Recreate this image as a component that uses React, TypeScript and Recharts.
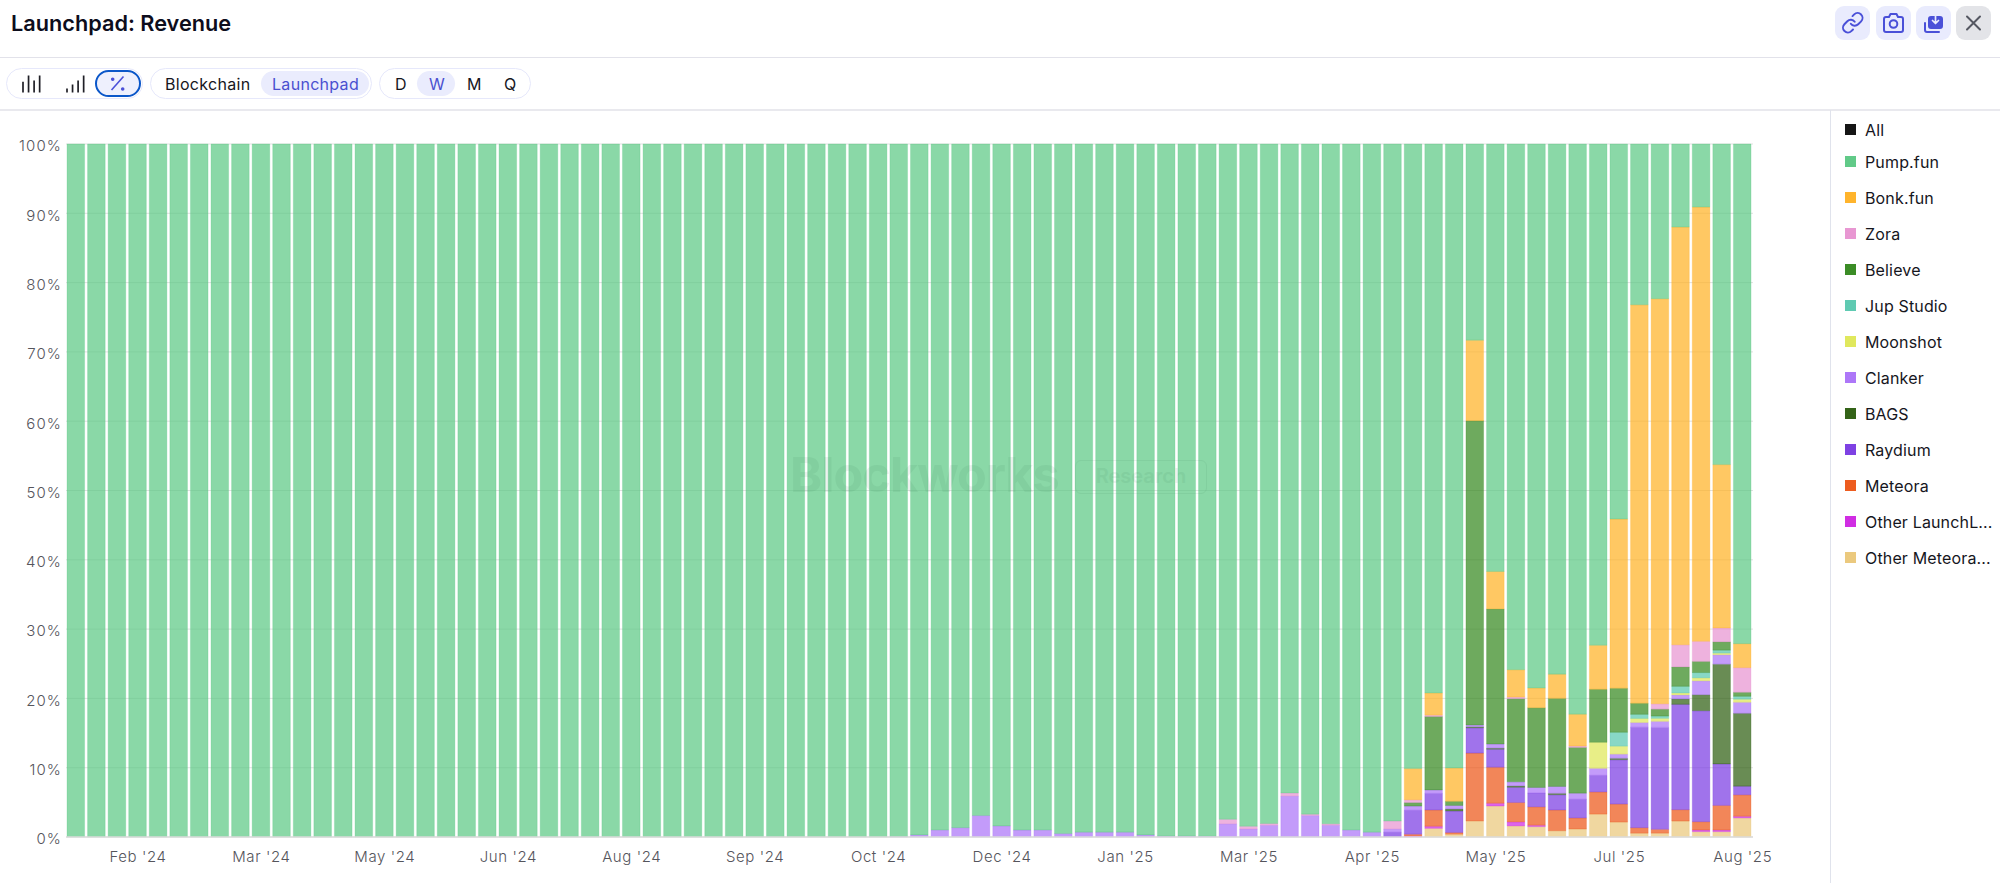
import { CSSProperties } from 'react';
import { BarChart, Bar, XAxis, YAxis, CartesianGrid } from 'recharts';

const weeks: string[] = [
  '2024-01-28', '2024-02-04', '2024-02-11', '2024-02-18', '2024-02-25', '2024-03-03', '2024-03-10', '2024-03-17', '2024-03-24', '2024-03-31',
  '2024-04-07', '2024-04-14', '2024-04-21', '2024-04-28', '2024-05-05', '2024-05-12', '2024-05-19', '2024-05-26', '2024-06-02', '2024-06-09',
  '2024-06-16', '2024-06-23', '2024-06-30', '2024-07-07', '2024-07-14', '2024-07-21', '2024-07-28', '2024-08-04', '2024-08-11', '2024-08-18',
  '2024-08-25', '2024-09-01', '2024-09-08', '2024-09-15', '2024-09-22', '2024-09-29', '2024-10-06', '2024-10-13', '2024-10-20', '2024-10-27',
  '2024-11-03', '2024-11-10', '2024-11-17', '2024-11-24', '2024-12-01', '2024-12-08', '2024-12-15', '2024-12-22', '2024-12-29', '2025-01-05',
  '2025-01-12', '2025-01-19', '2025-01-26', '2025-02-02', '2025-02-09', '2025-02-16', '2025-02-23', '2025-03-02', '2025-03-09', '2025-03-16',
  '2025-03-23', '2025-03-30', '2025-04-06', '2025-04-13', '2025-04-20', '2025-04-27', '2025-05-04', '2025-05-11', '2025-05-18', '2025-05-25',
  '2025-06-01', '2025-06-08', '2025-06-15', '2025-06-22', '2025-06-29', '2025-07-06', '2025-07-13', '2025-07-20', '2025-07-27', '2025-08-03',
  '2025-08-10', '2025-08-17',
];

const tickWeeks = ['2024-02-18', '2024-03-31', '2024-05-12', '2024-06-23', '2024-08-04', '2024-09-15', '2024-10-27', '2024-12-08', '2025-01-19', '2025-03-02', '2025-04-13', '2025-05-25', '2025-07-06', '2025-08-17'];
const tickMonths = ["Feb '24", "Mar '24", "May '24", "Jun '24", "Aug '24", "Sep '24", "Oct '24", "Dec '24", "Jan '25", "Mar '25", "Apr '25", "May '25", "Jul '25", "Aug '25"];
const percentTicks = [0, 0.1, 0.2, 0.3, 0.4, 0.5, 0.6, 0.7, 0.8, 0.9, 1];

const pumpFun = [
  100, 100, 100, 100, 100, 100, 100, 100, 100, 100,
  100, 100, 100, 100, 100, 100, 100, 100, 100, 100,
  100, 100, 100, 100, 100, 100, 100, 100, 100, 100,
  100, 100, 100, 100, 100, 100, 100, 100, 100, 100,
  99.95, 99.7, 99, 98.65, 96.9, 98.4, 99, 99, 99.5, 99.3,
  99.3, 99.3, 99.7, 99.88, 99.88, 99.9, 97.45, 98.45, 98.05, 93.65,
  96.7, 98.1, 99, 99.3, 97.7, 90, 79.3, 90.05, 28.3, 61.7,
  75.9, 78.5, 76.5, 82.25, 72.3, 54.1, 23.2, 22.3, 12, 9.1,
  46.3, 72.1,
];
const bonkFun = [
  0, 0, 0, 0, 0, 0, 0, 0, 0, 0, 0, 0, 0, 0, 0, 0, 0, 0, 0, 0,
  0, 0, 0, 0, 0, 0, 0, 0, 0, 0, 0, 0, 0, 0, 0, 0, 0, 0, 0, 0,
  0, 0, 0, 0, 0, 0, 0, 0, 0, 0, 0, 0, 0, 0, 0, 0, 0, 0, 0, 0,
  0, 0, 0, 0, 0, 4.5, 3.2, 4.8, 11.6, 5.4,
  3.95, 2.85, 3.5, 4.6, 6.35, 24.4, 57.5, 58.4, 60.3, 62.6,
  23.6, 3.46,
];
const zora = [
  0, 0, 0, 0, 0, 0, 0, 0, 0, 0, 0, 0, 0, 0, 0, 0, 0, 0, 0, 0,
  0, 0, 0, 0, 0, 0, 0, 0, 0, 0, 0, 0, 0, 0, 0, 0, 0, 0, 0, 0,
  0, 0, 0, 0, 0, 0, 0, 0, 0, 0,
  0, 0, 0, 0, 0, 0, 0.65, 0.4, 0.25, 0.45,
  0.2, 0.2, 0, 0, 1.15, 0.4, 0.2, 0, 0, 0,
  0.24, 0, 0, 0.2, 0, 0, 0, 0.77, 3.2, 2.9,
  2, 3.56,
];
const believe = [
  0, 0, 0, 0, 0, 0, 0, 0, 0, 0, 0, 0, 0, 0, 0, 0, 0, 0, 0, 0,
  0, 0, 0, 0, 0, 0, 0, 0, 0, 0, 0, 0, 0, 0, 0, 0, 0, 0, 0, 0,
  0, 0, 0, 0, 0, 0, 0, 0, 0, 0, 0, 0, 0, 0, 0, 0, 0, 0, 0, 0,
  0, 0, 0, 0, 0, 0.5, 10.6, 0.6, 43.9, 19.5,
  12, 11.5, 12.7, 6.6, 7.65, 6.35, 1.6, 1, 2.8, 1.6,
  1.2, 0.58,
];
const jupStudio = [
  0, 0, 0, 0, 0, 0, 0, 0, 0, 0, 0, 0, 0, 0, 0, 0, 0, 0, 0, 0,
  0, 0, 0, 0, 0, 0, 0, 0, 0, 0, 0, 0, 0, 0, 0, 0, 0, 0, 0, 0,
  0, 0, 0, 0, 0, 0, 0, 0, 0, 0, 0, 0, 0, 0, 0, 0, 0, 0, 0, 0,
  0, 0, 0, 0, 0, 0, 0, 0, 0, 0,
  0, 0, 0, 0, 0, 2, 0.6, 0.33, 0.96, 0.77,
  0.43, 0.43,
];
const moonshot = [
  0, 0, 0, 0, 0, 0, 0, 0, 0, 0, 0, 0, 0, 0, 0, 0, 0, 0, 0, 0,
  0, 0, 0, 0, 0, 0, 0, 0, 0, 0, 0, 0, 0, 0, 0, 0, 0, 0, 0, 0,
  0, 0, 0, 0, 0, 0, 0, 0, 0, 0, 0, 0, 0, 0, 0, 0, 0, 0, 0, 0,
  0, 0, 0, 0, 0, 0, 0, 0, 0, 0,
  0, 0, 0, 0, 3.75, 1.15, 0.58, 0.43, 0.29, 0.43,
  0.24, 0.43,
];
const clanker = [
  0, 0, 0, 0, 0, 0, 0, 0, 0, 0, 0, 0, 0, 0, 0, 0, 0, 0, 0, 0,
  0, 0, 0, 0, 0, 0, 0, 0, 0, 0, 0, 0, 0, 0, 0, 0, 0, 0, 0, 0,
  0.05, 0.3, 1, 1.35, 3.1, 1.6, 1, 1, 0.5, 0.7,
  0.7, 0.7, 0.3, 0.12, 0.12, 0.1, 1.9, 1.15, 1.7, 5.9,
  3.1, 1.7, 1, 0.7, 0.45, 0.6, 0.5, 0.5, 0.25, 0.6,
  0.58, 0.8, 1, 0.87, 1, 0.6, 0.67, 0.87, 0.58, 2,
  1.35, 1.6,
];
const bags = [
  0, 0, 0, 0, 0, 0, 0, 0, 0, 0, 0, 0, 0, 0, 0, 0, 0, 0, 0, 0,
  0, 0, 0, 0, 0, 0, 0, 0, 0, 0, 0, 0, 0, 0, 0, 0, 0, 0, 0, 0,
  0, 0, 0, 0, 0, 0, 0, 0, 0, 0, 0, 0, 0, 0, 0, 0, 0, 0, 0, 0,
  0, 0, 0, 0, 0, 0, 0, 0.3, 0.15, 0.15,
  0.2, 0, 0.2, 0, 0, 0.2, 0, 0, 0.77, 2.3,
  14.4, 10.5,
];
const raydium = [
  0, 0, 0, 0, 0, 0, 0, 0, 0, 0, 0, 0, 0, 0, 0, 0, 0, 0, 0, 0,
  0, 0, 0, 0, 0, 0, 0, 0, 0, 0, 0, 0, 0, 0, 0, 0, 0, 0, 0, 0,
  0, 0, 0, 0, 0, 0, 0, 0, 0, 0, 0, 0, 0, 0, 0, 0, 0, 0, 0, 0,
  0, 0, 0, 0, 0.7, 3.46, 2.4, 3.1, 3.65, 2.6,
  2.2, 2, 2.2, 2.7, 2.4, 6.4, 14.5, 14.7, 15.2, 16,
  6, 1.25,
];
const meteora = [
  0, 0, 0, 0, 0, 0, 0, 0, 0, 0, 0, 0, 0, 0, 0, 0, 0, 0, 0, 0,
  0, 0, 0, 0, 0, 0, 0, 0, 0, 0, 0, 0, 0, 0, 0, 0, 0, 0, 0, 0,
  0, 0, 0, 0, 0, 0, 0, 0, 0, 0, 0, 0, 0, 0, 0, 0, 0, 0, 0, 0,
  0, 0, 0, 0, 0, 0.25, 2.35, 0.25, 9.8, 5.2,
  2.8, 2.65, 3, 1.6, 3.2, 2.6, 0.8, 0.55, 1.65, 1.2,
  3.55, 3.1,
];
const otherLaunchLab = [
  0, 0, 0, 0, 0, 0, 0, 0, 0, 0, 0, 0, 0, 0, 0, 0, 0, 0, 0, 0,
  0, 0, 0, 0, 0, 0, 0, 0, 0, 0, 0, 0, 0, 0, 0, 0, 0, 0, 0, 0,
  0, 0, 0, 0, 0, 0, 0, 0, 0, 0, 0, 0, 0, 0, 0, 0, 0, 0, 0, 0,
  0, 0, 0, 0, 0, 0.15, 0.3, 0, 0, 0.4,
  0.58, 0.2, 0, 0, 0, 0, 0, 0, 0, 0.24,
  0.24, 0.24,
];
const otherMeteora = [
  0, 0, 0, 0, 0, 0, 0, 0, 0, 0, 0, 0, 0, 0, 0, 0, 0, 0, 0, 0,
  0, 0, 0, 0, 0, 0, 0, 0, 0, 0, 0, 0, 0, 0, 0, 0, 0, 0, 0, 0,
  0, 0, 0, 0, 0, 0, 0, 0, 0, 0, 0, 0, 0, 0, 0, 0, 0, 0, 0, 0,
  0, 0, 0, 0, 0, 0, 1.25, 0.4, 2.3, 4.47,
  1.6, 1.5, 0.9, 1.15, 3.3, 2.15, 0.55, 0.55, 2.3, 0.77,
  0.77, 2.75,
];

// bottom of the stack first
const series = [
  { key: 'otherMeteora', name: 'Other Meteora...', color: '#eac677', values: otherMeteora },
  { key: 'otherLaunchLab', name: 'Other LaunchL...', color: '#cd22e2', values: otherLaunchLab },
  { key: 'meteora', name: 'Meteora', color: '#ec5313', values: meteora },
  { key: 'raydium', name: 'Raydium', color: '#7737e2', values: raydium },
  { key: 'bags', name: 'BAGS', color: '#295b0c', values: bags },
  { key: 'clanker', name: 'Clanker', color: '#a970f8', values: clanker },
  { key: 'moonshot', name: 'Moonshot', color: '#dee754', values: moonshot },
  { key: 'jupStudio', name: 'Jup Studio', color: '#56c7ae', values: jupStudio },
  { key: 'believe', name: 'Believe', color: '#30861a', values: believe },
  { key: 'zora', name: 'Zora', color: '#e791d0', values: zora },
  { key: 'bonkFun', name: 'Bonk.fun', color: '#ffb021', values: bonkFun },
  { key: 'pumpFun', name: 'Pump.fun', color: '#58c782', values: pumpFun },
];

const chartData = weeks.map((week, i) => {
  const row: Record<string, string | number> = { week };
  series.forEach((s) => {
    row[s.key] = s.values[i];
  });
  return row;
});

const font = 'Inter, "Noto Sans", sans-serif';

const groupStyle = (left: number, width: number): CSSProperties => ({
  position: 'absolute',
  left,
  top: 68,
  width,
  height: 31,
  boxSizing: 'border-box',
  border: '1.5px solid #e6e8fb',
  borderRadius: 16,
});

const label = (left: number, text: string, color = '#16161d'): JSX.Element => (
  <div style={{ position: 'absolute', left, top: 73, fontSize: 16, lineHeight: '22px', color, letterSpacing: 0.3 }}>{text}</div>
);

const pill = (left: number, width: number): JSX.Element => (
  <div style={{ position: 'absolute', left, top: 71, width, height: 25, borderRadius: 13, background: '#eaecfd' }} />
);

const iconBtn = (left: number, bg: string, icon: JSX.Element): JSX.Element => (
  <div style={{ position: 'absolute', left, top: 6, width: 35, height: 34, borderRadius: 9, background: bg }}>
    <svg width="35" height="34" viewBox="0 0 35 34" fill="none" stroke="#4a50d8" strokeWidth="2" strokeLinecap="round" strokeLinejoin="round">
      {icon}
    </svg>
  </div>
);

const BarsIcon = ({ left, heights }: { left: number; heights: number[] }) => (
  <svg style={{ position: 'absolute', left, top: 74 }} width="24" height="20" stroke="#1f1f26" strokeWidth="1.7">
    {heights.map((h, i) => (
      <line key={i} x1={2 + i * 5.55} x2={2 + i * 5.55} y1={18.5} y2={18.5 - h} />
    ))}
  </svg>
);

export default function App() {
  return (
    <div style={{ position: 'absolute', left: 0, top: 0, width: 2000, height: 883, background: '#fff', fontFamily: font, overflow: 'hidden' }}>
      <div style={{ position: 'absolute', left: 11, top: 9, fontSize: 21.7, lineHeight: '28px', fontWeight: 600, color: '#0d0d1c' }}>Launchpad: Revenue</div>

      {iconBtn(1835, '#e9ebfd', <g transform="translate(6 5) scale(0.98)">
        <path d="M10 13a5 5 0 0 0 7.54.54l3-3a5 5 0 0 0-7.07-7.07l-1.72 1.71" />
        <path d="M14 11a5 5 0 0 0-7.54-.54l-3 3a5 5 0 0 0 7.07 7.07l1.71-1.71" />
      </g>)}
      {iconBtn(1876, '#e9ebfd', <>
        <path d="M8 13a2 2 0 0 1 2-2h3l1.5-3h6l1.5 3h3a2 2 0 0 1 2 2v11a2 2 0 0 1-2 2H10a2 2 0 0 1-2-2z" />
        <circle cx="17.5" cy="18" r="3.8" />
      </>)}
      {iconBtn(1916, '#e9ebfd', <>
        <path d="M9 17v7a2 2 0 0 0 2 2h12" />
        <rect x="13" y="11" width="13" height="11" rx="2" fill="#4a50d8" />
        <path d="M19.5 9v8M16.5 14.5l3 3 3-3" stroke="#e9ebfd" strokeWidth="1.7" />
      </>)}
      <div style={{ position: 'absolute', left: 1956, top: 6, width: 35, height: 34, borderRadius: 9, background: '#e3e4e8' }}>
        <svg width="35" height="34" fill="none" stroke="#555862" strokeWidth="2" strokeLinecap="round">
          <path d="M11 10.5l13 13M24 10.5l-13 13" />
        </svg>
      </div>

      <div style={{ position: 'absolute', left: 0, top: 57, width: 2000, height: 1, background: '#e2e2ea' }} />
      <div style={{ position: 'absolute', left: 0, top: 109, width: 2000, height: 2, background: '#e9e9ee' }} />
      <div style={{ position: 'absolute', left: 1830, top: 110, width: 1, height: 773, background: '#e0e3ec' }} />

      <div style={groupStyle(6, 137)} />
      <BarsIcon left={21} heights={[10.7, 17, 12, 17]} />
      <BarsIcon left={65} heights={[4, 8, 12, 17]} />
      <div style={{ position: 'absolute', left: 95, top: 70, width: 46, height: 27, boxSizing: 'border-box', borderRadius: 14, border: '2.5px solid #0b57c9', background: '#eef0fd' }} />
      <svg style={{ position: 'absolute', left: 108, top: 74 }} width="20" height="19" stroke="#4a50d8" fill="#4a50d8" strokeWidth="1.6">
        <line x1="3.5" y1="16" x2="15.5" y2="2.5" />
        <circle cx="4.7" cy="5.3" r="1" />
        <circle cx="14.7" cy="15" r="1" />
      </svg>

      <div style={groupStyle(150, 222)} />
      {label(165, 'Blockchain')}
      {pill(261, 108)}
      {label(272, 'Launchpad', '#4a50d0')}

      <div style={groupStyle(379, 152)} />
      {label(395, 'D')}
      {pill(417, 38)}
      {label(429, 'W', '#4a50d0')}
      {label(467, 'M')}
      {label(504, 'Q')}

      <BarChart
        style={{ position: 'absolute', left: 0, top: 0 }}
        width={2000}
        height={883}
        data={chartData}
        stackOffset="expand"
        barSize={17.6}
        margin={{ top: 144, right: 247, left: 0, bottom: 0 }}
      >
        <CartesianGrid vertical={false} stroke="#d9d9d9" strokeOpacity={0.8} />
        <XAxis
          dataKey="week"
          height={46}
          ticks={tickWeeks}
          tickFormatter={(w: string) => tickMonths[tickWeeks.indexOf(w)]}
          interval={0}
          axisLine={{ stroke: '#dcdcdc', strokeWidth: 1.5 }}
          tickLine={false}
          tickMargin={8}
          tick={{ fill: '#55555c', fontSize: 15, fontWeight: 300, letterSpacing: 0.6 }}
        />
        <YAxis
          width={66}
          domain={[0, 1]}
          ticks={percentTicks}
          tickFormatter={(v: number) => `${Math.round(v * 100)}%`}
          axisLine={false}
          tickLine={false}
          tickSize={0}
          tickMargin={4}
          tick={{ fill: '#55555c', fontSize: 15, fontWeight: 300, letterSpacing: 1.1, dy: 2 }}
        />
        {series.map((s) => (
          <Bar
            key={s.key}
            dataKey={s.key}
            name={s.name}
            stackId="1"
            fill={s.color}
            fillOpacity={0.7}
            stroke={s.color}
            strokeOpacity={0.25}
            isAnimationActive={false}
          />
        ))}
      </BarChart>

      {/* watermark sits over the bars */}
      <div style={{ position: 'absolute', left: 790, top: 445, fontSize: 48.7, lineHeight: '60px', fontWeight: 700, color: '#2a6b47', opacity: 0.08, letterSpacing: -1, pointerEvents: 'none' }}>Blockworks</div>
      <div style={{ position: 'absolute', left: 1075, top: 460, width: 132, height: 34, boxSizing: 'border-box', border: '1.5px solid #2a6b47', borderRadius: 6, opacity: 0.08, color: '#2a6b47', fontSize: 20, lineHeight: '31px', fontWeight: 600, textAlign: 'center', pointerEvents: 'none' }}>Research</div>

      <div style={{ position: 'absolute', left: 1845, top: 124, width: 11, height: 11, background: '#151515' }} />
      <div style={{ position: 'absolute', left: 1865, top: 119, fontSize: 16, lineHeight: '22px', color: '#16161d', letterSpacing: 0.15 }}>All</div>
      {[...series].reverse().map((s, i) => (
        <div key={s.key}>
          <div style={{ position: 'absolute', left: 1845, top: 156 + i * 36, width: 11, height: 11, background: s.color, opacity: 0.95 }} />
          <div style={{ position: 'absolute', left: 1865, top: 151 + i * 36, fontSize: 16, lineHeight: '22px', color: '#16161d', letterSpacing: 0.15, whiteSpace: 'nowrap' }}>{s.name}</div>
        </div>
      ))}
    </div>
  );
}
